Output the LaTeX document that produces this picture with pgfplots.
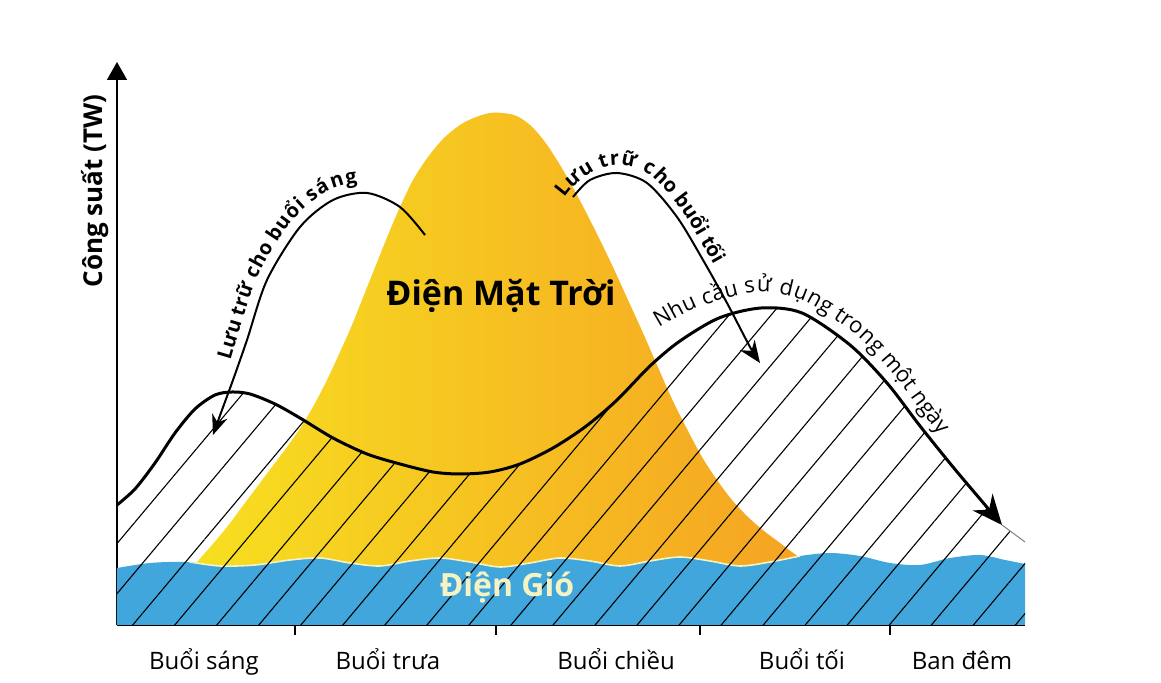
\documentclass[border=0pt]{standalone}
\usepackage{fontspec}
\setmainfont{Open Sans}
\usepackage{pgfplots}
\pgfplotsset{compat=1.18}
\usetikzlibrary{arrows.meta,patterns.meta,decorations.text}
\definecolor{windblue}{RGB}{65,166,220}
\definecolor{sunL}{RGB}{247,224,32}
\definecolor{sunM}{RGB}{250,192,30}
\definecolor{sunR}{RGB}{245,160,35}
\definecolor{cream}{RGB}{245,243,195}
\begin{document}
\begin{tikzpicture}
\begin{axis}[
  x=0.5pt, y=0.5pt,
  xmin=117, xmax=1025, ymin=0, ymax=563,
  axis lines=left,
  axis line style={line width=0.75pt},
  x axis line style={-},
  y axis line style={-{Triangle[length=9pt,width=10pt]}},
  xtick={295,496,700,890}, xticklabels={},
  ytick=\empty,
  tick align=center, major tick length=10pt,
  tick style={line width=0.75pt, black},
  clip=false,
]
% solar
\addplot[draw=none, left color=sunL, middle color=sunM, right color=sunR, smooth] coordinates {
(185,50) (197,63) (212,80) (227,98) (242,118) (257,138) (272,158) (287,178) (301,198) (314,220) (327,245) (340,273) (352,300) (364,330) (376,360) (388,390) (400,418) (413,445) (428,468) (445,488) (465,503) (490,512) (514,510) (530,500) (545,483) (560,460) (577,430) (595,395) (612,360) (628,325) (643,292) (657,260) (672,226) (687,196) (702,168) (717,145) (732,125) (748,108) (764,94) (780,82) (796,70) (812,60) (835,50)} \closedcycle;
% wind
\addplot[fill=windblue, draw=none, smooth] coordinates {
(117,57) (150,62) (185,63) (220,59) (255,60) (290,65) (320,67) (350,62) (380,59) (410,64) (440,67) (470,63) (500,58) (530,62) (560,67) (590,64) (620,59) (650,64) (680,68) (710,64) (740,59) (770,63) (800,69) (830,72) (860,69) (890,62) (920,60) (950,67) (980,70) (1005,65) (1025,61)} \closedcycle;
\addplot[draw=cream, line width=0.8pt, smooth] coordinates {
(190,63) (220,59) (255,60) (290,65) (320,67) (350,62) (380,59) (410,64) (440,67) (470,63) (500,58) (530,62) (560,67) (590,64) (620,59) (650,64) (680,68) (710,64) (740,59) (770,63) (800,69)};
% hatch
\addplot[draw=none, pattern={Lines[angle=50,distance=16.1pt,line width=0.55pt]}, pattern color=black, smooth] coordinates {
(117,120) (135,136) (155,162) (175,192) (195,216) (215,230) (232,233) (250,231) (275,221) (300,207) (333,187) (367,171) (400,161) (433,153) (460,151) (490,153) (520,161) (553,177) (585,198) (616,224) (650,259) (680,284) (719,307) (761,317) (802,312) (850,280) (887,242) (920,199) (953,158) (980,126) (1002,100) (1025,83)} \closedcycle;
% demand
\addplot[smooth, line width=1.5pt, -{Stealth[length=15pt,width=13pt,inset=5pt]}] coordinates {
(117,120) (135,136) (155,162) (175,192) (195,216) (215,230) (232,233) (250,231) (275,221) (300,207) (333,187) (367,171) (400,161) (433,153) (460,151) (490,153) (520,161) (553,177) (585,198) (616,224) (650,259) (680,284) (719,307) (761,317) (802,312) (850,280) (887,242) (920,199) (953,158) (980,126) (1002,100)};
\addplot[gray, line width=0.5pt] coordinates {(1002,100) (1025,83)};
% storage arrows
\addplot[smooth, line width=1pt, -{Stealth[length=10pt,width=8pt]}] coordinates {
(425,390) (400,418) (367,432) (333,425) (300,398) (267,345) (247,285) (233,245) (222,215) (213,190)};
\addplot[smooth, line width=1pt, -{Stealth[length=11pt,width=9pt]}] coordinates {
(573,428) (590,445) (617,452) (647,442) (677,408) (703,365) (727,322) (750,278) (760,262)};
% curved texts
\addplot[smooth, draw=none, decorate, decoration={text along path, text={|\bfseries\fontsize{10}{12}\selectfont|Lưu trữ cho buổi sáng}, raise=5pt, text align={left}}] coordinates {
(240,262) (247,285) (267,345) (300,398) (333,425) (367,432) (400,418) (425,390)};
\addplot[smooth, draw=none, decorate, decoration={text along path, text={|\bfseries\fontsize{10}{12}\selectfont|Lưu trữ cho buổi tối}, raise=2.5pt, text align={left}}] coordinates {
(568,424) (578,436) (594,448) (617,455) (647,446) (677,412) (703,369) (727,326) (750,282)};
\addplot[smooth, draw=none, decorate, decoration={text along path, text={|\fontsize{11}{13}\selectfont|Nhu cầu sử dụng trong một ngày}, raise=3pt, text align={left}}] coordinates {
(662,292) (700,312) (757,327) (800,319) (850,287) (887,249) (920,205) (953,163) (975,135)};
% labels
\node[anchor=base, font=\bfseries\fontsize{17}{20}\selectfont] at (axis cs:501,319) {Điện Mặt Trời};
\node[anchor=base, text=cream, font=\bfseries\fontsize{16}{19}\selectfont] at (axis cs:507,28) {Điện Gió};
\node[rotate=90, font=\bfseries\fontsize{13}{16}\selectfont] at (axis cs:95,434) {Công suất (TW)};
\node[anchor=base, font=\fontsize{12}{14}\selectfont] at (axis cs:204,-45) {Buổi sáng};
\node[anchor=base, font=\fontsize{12}{14}\selectfont] at (axis cs:388,-45) {Buổi trưa};
\node[anchor=base, font=\fontsize{12}{14}\selectfont] at (axis cs:616,-45) {Buổi chiều};
\node[anchor=base, font=\fontsize{12}{14}\selectfont] at (axis cs:802,-45) {Buổi tối};
\node[anchor=base, font=\fontsize{12}{14}\selectfont] at (axis cs:962,-45) {Ban đêm};
\coordinate (bl) at (axis cs:0,-58);
\coordinate (tr) at (axis cs:1161,625);
\end{axis}
\pgfresetboundingbox
\path[use as bounding box] (bl) rectangle (tr);
\end{tikzpicture}
\end{document}
